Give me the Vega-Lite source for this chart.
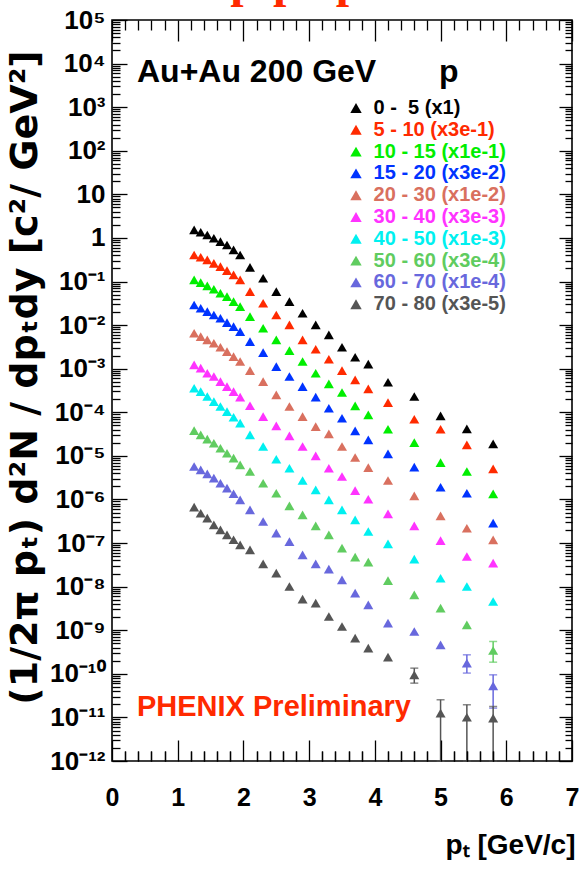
{
  "$schema": "https://vega.github.io/schema/vega-lite/v6.json",
  "autosize": {"type": "none"},
  "width": 460,
  "height": 741,
  "padding": {"left": 112, "top": 20, "right": 8, "bottom": 112},
  "background": "white",
  "config": {
    "view": {"stroke": "#000", "strokeWidth": 1.6},
    "axis": {"grid": false, "ticks": true, "tickColor": "#000", "tickOpacity": 1, "tickWidth": 1.3, "domain": false, "labelFont": "Liberation Sans", "labelFontWeight": "bold", "labelColor": "#000", "zindex": 1}
  },
  "datasets": {
    "main": [
      {"c":"0 - 5 (x1)","x":1.25,"y":1.53},{"c":"0 - 5 (x1)","x":1.35,"y":1.35},{"c":"0 - 5 (x1)","x":1.45,"y":1.17},{"c":"0 - 5 (x1)","x":1.55,"y":0.982},{"c":"0 - 5 (x1)","x":1.65,"y":0.824},{"c":"0 - 5 (x1)","x":1.75,"y":0.69},{"c":"0 - 5 (x1)","x":1.85,"y":0.531},{"c":"0 - 5 (x1)","x":1.95,"y":0.407},{"c":"0 - 5 (x1)","x":2.1,"y":0.212},{"c":"0 - 5 (x1)","x":2.3,"y":0.119},{"c":"0 - 5 (x1)","x":2.5,"y":0.0587},{"c":"0 - 5 (x1)","x":2.7,"y":0.0347},{"c":"0 - 5 (x1)","x":2.9,"y":0.0187},{"c":"0 - 5 (x1)","x":3.1,"y":0.0101},{"c":"0 - 5 (x1)","x":3.3,"y":0.00596},{"c":"0 - 5 (x1)","x":3.5,"y":0.0031},{"c":"0 - 5 (x1)","x":3.7,"y":0.00183},{"c":"0 - 5 (x1)","x":3.9,"y":0.00127},{"c":"0 - 5 (x1)","x":4.2,"y":0.00049},{"c":"0 - 5 (x1)","x":4.6,"y":0.00023},{"c":"0 - 5 (x1)","x":5.0,"y":8.28e-5},{"c":"0 - 5 (x1)","x":5.4,"y":4.16e-5},{"c":"0 - 5 (x1)","x":5.8,"y":1.88e-5},
      {"c":"5 - 10 (x3e-1)","x":1.25,"y":0.407},{"c":"5 - 10 (x3e-1)","x":1.35,"y":0.361},{"c":"5 - 10 (x3e-1)","x":1.45,"y":0.313},{"c":"5 - 10 (x3e-1)","x":1.55,"y":0.262},{"c":"5 - 10 (x3e-1)","x":1.65,"y":0.22},{"c":"5 - 10 (x3e-1)","x":1.75,"y":0.178},{"c":"5 - 10 (x3e-1)","x":1.85,"y":0.142},{"c":"5 - 10 (x3e-1)","x":1.95,"y":0.109},{"c":"5 - 10 (x3e-1)","x":2.1,"y":0.0587},{"c":"5 - 10 (x3e-1)","x":2.3,"y":0.0318},{"c":"5 - 10 (x3e-1)","x":2.5,"y":0.0171},{"c":"5 - 10 (x3e-1)","x":2.7,"y":0.0101},{"c":"5 - 10 (x3e-1)","x":2.9,"y":0.00458},{"c":"5 - 10 (x3e-1)","x":3.1,"y":0.0028},{"c":"5 - 10 (x3e-1)","x":3.3,"y":0.00165},{"c":"5 - 10 (x3e-1)","x":3.5,"y":0.000906},{"c":"5 - 10 (x3e-1)","x":3.7,"y":0.000553},{"c":"5 - 10 (x3e-1)","x":3.9,"y":0.000344},{"c":"5 - 10 (x3e-1)","x":4.2,"y":0.000167},{"c":"5 - 10 (x3e-1)","x":4.6,"y":6.93e-5},{"c":"5 - 10 (x3e-1)","x":5.0,"y":4.09e-5},{"c":"5 - 10 (x3e-1)","x":5.4,"y":1.79e-5},{"c":"5 - 10 (x3e-1)","x":5.8,"y":5.04e-6},
      {"c":"10 - 15 (x1e-1)","x":1.25,"y":0.109},{"c":"10 - 15 (x1e-1)","x":1.35,"y":0.0946},{"c":"10 - 15 (x1e-1)","x":1.45,"y":0.0793},{"c":"10 - 15 (x1e-1)","x":1.55,"y":0.0665},{"c":"10 - 15 (x1e-1)","x":1.65,"y":0.0538},{"c":"10 - 15 (x1e-1)","x":1.75,"y":0.0451},{"c":"10 - 15 (x1e-1)","x":1.85,"y":0.0347},{"c":"10 - 15 (x1e-1)","x":1.95,"y":0.0266},{"c":"10 - 15 (x1e-1)","x":2.1,"y":0.0157},{"c":"10 - 15 (x1e-1)","x":2.3,"y":0.00847},{"c":"10 - 15 (x1e-1)","x":2.5,"y":0.00458},{"c":"10 - 15 (x1e-1)","x":2.7,"y":0.00261},{"c":"10 - 15 (x1e-1)","x":2.9,"y":0.00146},{"c":"10 - 15 (x1e-1)","x":3.1,"y":0.000787},{"c":"10 - 15 (x1e-1)","x":3.3,"y":0.000449},{"c":"10 - 15 (x1e-1)","x":3.5,"y":0.000284},{"c":"10 - 15 (x1e-1)","x":3.7,"y":0.00014},{"c":"10 - 15 (x1e-1)","x":3.9,"y":8.71e-5},{"c":"10 - 15 (x1e-1)","x":4.2,"y":4.09e-5},{"c":"10 - 15 (x1e-1)","x":4.6,"y":2.02e-5},{"c":"10 - 15 (x1e-1)","x":5.0,"y":7.03e-6},{"c":"10 - 15 (x1e-1)","x":5.4,"y":4.38e-6},{"c":"10 - 15 (x1e-1)","x":5.8,"y":1.34e-6},
      {"c":"15 - 20 (x3e-2)","x":1.25,"y":0.029},{"c":"15 - 20 (x3e-2)","x":1.35,"y":0.0244},{"c":"15 - 20 (x3e-2)","x":1.45,"y":0.0204},{"c":"15 - 20 (x3e-2)","x":1.55,"y":0.0171},{"c":"15 - 20 (x3e-2)","x":1.65,"y":0.0144},{"c":"15 - 20 (x3e-2)","x":1.75,"y":0.0114},{"c":"15 - 20 (x3e-2)","x":1.85,"y":0.00925},{"c":"15 - 20 (x3e-2)","x":1.95,"y":0.00711},{"c":"15 - 20 (x3e-2)","x":2.1,"y":0.00419},{"c":"15 - 20 (x3e-2)","x":2.3,"y":0.00234},{"c":"15 - 20 (x3e-2)","x":2.5,"y":0.00112},{"c":"15 - 20 (x3e-2)","x":2.7,"y":0.000661},{"c":"15 - 20 (x3e-2)","x":2.9,"y":0.000389},{"c":"15 - 20 (x3e-2)","x":3.1,"y":0.000222},{"c":"15 - 20 (x3e-2)","x":3.3,"y":0.000124},{"c":"15 - 20 (x3e-2)","x":3.5,"y":7.31e-5},{"c":"15 - 20 (x3e-2)","x":3.7,"y":3.74e-5},{"c":"15 - 20 (x3e-2)","x":3.9,"y":2.33e-5},{"c":"15 - 20 (x3e-2)","x":4.2,"y":1.11e-5},{"c":"15 - 20 (x3e-2)","x":4.6,"y":5.5e-6},{"c":"15 - 20 (x3e-2)","x":5.0,"y":1.91e-6},{"c":"15 - 20 (x3e-2)","x":5.4,"y":1.39e-6},{"c":"15 - 20 (x3e-2)","x":5.8,"y":2.86e-7},
      {"c":"20 - 30 (x1e-2)","x":1.25,"y":0.0065},{"c":"20 - 30 (x1e-2)","x":1.35,"y":0.00546},{"c":"20 - 30 (x1e-2)","x":1.45,"y":0.00457},{"c":"20 - 30 (x1e-2)","x":1.55,"y":0.00384},{"c":"20 - 30 (x1e-2)","x":1.65,"y":0.0031},{"c":"20 - 30 (x1e-2)","x":1.75,"y":0.00247},{"c":"20 - 30 (x1e-2)","x":1.85,"y":0.0019},{"c":"20 - 30 (x1e-2)","x":1.95,"y":0.00146},{"c":"20 - 30 (x1e-2)","x":2.1,"y":0.000906},{"c":"20 - 30 (x1e-2)","x":2.3,"y":0.000507},{"c":"20 - 30 (x1e-2)","x":2.5,"y":0.000251},{"c":"20 - 30 (x1e-2)","x":2.7,"y":0.000136},{"c":"20 - 30 (x1e-2)","x":2.9,"y":7.98e-5},{"c":"20 - 30 (x1e-2)","x":3.1,"y":4.71e-5},{"c":"20 - 30 (x1e-2)","x":3.3,"y":3.2e-5},{"c":"20 - 30 (x1e-2)","x":3.5,"y":1.64e-5},{"c":"20 - 30 (x1e-2)","x":3.7,"y":9.16e-6},{"c":"20 - 30 (x1e-2)","x":3.9,"y":5.4e-6},{"c":"20 - 30 (x1e-2)","x":4.2,"y":2.72e-6},{"c":"20 - 30 (x1e-2)","x":4.6,"y":1.21e-6},{"c":"20 - 30 (x1e-2)","x":5.0,"y":4.21e-7},{"c":"20 - 30 (x1e-2)","x":5.4,"y":2.19e-7},{"c":"20 - 30 (x1e-2)","x":5.8,"y":1.18e-7},
      {"c":"30 - 40 (x3e-3)","x":1.25,"y":0.00122},{"c":"30 - 40 (x3e-3)","x":1.35,"y":0.00103},{"c":"30 - 40 (x3e-3)","x":1.45,"y":0.000787},{"c":"30 - 40 (x3e-3)","x":1.55,"y":0.000661},{"c":"30 - 40 (x3e-3)","x":1.65,"y":0.000507},{"c":"30 - 40 (x3e-3)","x":1.75,"y":0.000389},{"c":"30 - 40 (x3e-3)","x":1.85,"y":0.000299},{"c":"30 - 40 (x3e-3)","x":1.95,"y":0.000222},{"c":"30 - 40 (x3e-3)","x":2.1,"y":0.000141},{"c":"30 - 40 (x3e-3)","x":2.3,"y":7.98e-5},{"c":"30 - 40 (x3e-3)","x":2.5,"y":4.9e-5},{"c":"30 - 40 (x3e-3)","x":2.7,"y":2.88e-5},{"c":"30 - 40 (x3e-3)","x":2.9,"y":1.64e-5},{"c":"30 - 40 (x3e-3)","x":3.1,"y":1.0e-5},{"c":"30 - 40 (x3e-3)","x":3.3,"y":5.21e-6},{"c":"30 - 40 (x3e-3)","x":3.5,"y":3.36e-6},{"c":"30 - 40 (x3e-3)","x":3.7,"y":1.6e-6},{"c":"30 - 40 (x3e-3)","x":3.9,"y":1.01e-6},{"c":"30 - 40 (x3e-3)","x":4.2,"y":4.68e-7},{"c":"30 - 40 (x3e-3)","x":4.6,"y":2.48e-7},{"c":"30 - 40 (x3e-3)","x":5.0,"y":1.14e-7},{"c":"30 - 40 (x3e-3)","x":5.4,"y":4.91e-8},{"c":"30 - 40 (x3e-3)","x":5.8,"y":3.45e-8},
      {"c":"40 - 50 (x1e-3)","x":1.25,"y":0.000356},{"c":"40 - 50 (x1e-3)","x":1.35,"y":0.000299},{"c":"40 - 50 (x1e-3)","x":1.45,"y":0.00023},{"c":"40 - 50 (x1e-3)","x":1.55,"y":0.000176},{"c":"40 - 50 (x1e-3)","x":1.65,"y":0.000136},{"c":"40 - 50 (x1e-3)","x":1.75,"y":0.000104},{"c":"40 - 50 (x1e-3)","x":1.85,"y":7.71e-5},{"c":"40 - 50 (x1e-3)","x":1.95,"y":5.62e-5},{"c":"40 - 50 (x1e-3)","x":2.1,"y":3.03e-5},{"c":"40 - 50 (x1e-3)","x":2.3,"y":1.64e-5},{"c":"40 - 50 (x1e-3)","x":2.5,"y":8.39e-6},{"c":"40 - 50 (x1e-3)","x":2.7,"y":5.21e-6},{"c":"40 - 50 (x1e-3)","x":2.9,"y":2.72e-6},{"c":"40 - 50 (x1e-3)","x":3.1,"y":1.66e-6},{"c":"40 - 50 (x1e-3)","x":3.3,"y":9.79e-7},{"c":"40 - 50 (x1e-3)","x":3.5,"y":5.78e-7},{"c":"40 - 50 (x1e-3)","x":3.7,"y":3.4e-7},{"c":"40 - 50 (x1e-3)","x":3.9,"y":1.84e-7},{"c":"40 - 50 (x1e-3)","x":4.2,"y":9.59e-8},{"c":"40 - 50 (x1e-3)","x":4.6,"y":4.27e-8},{"c":"40 - 50 (x1e-3)","x":5.0,"y":1.56e-8},{"c":"40 - 50 (x1e-3)","x":5.4,"y":1.01e-8},{"c":"40 - 50 (x1e-3)","x":5.8,"y":4.56e-9},
      {"c":"50 - 60 (x3e-4)","x":1.25,"y":3.8e-5},{"c":"50 - 60 (x3e-4)","x":1.35,"y":3.03e-5},{"c":"50 - 60 (x3e-4)","x":1.45,"y":2.42e-5},{"c":"50 - 60 (x3e-4)","x":1.55,"y":1.95e-5},{"c":"50 - 60 (x3e-4)","x":1.65,"y":1.5e-5},{"c":"50 - 60 (x3e-4)","x":1.75,"y":1.15e-5},{"c":"50 - 60 (x3e-4)","x":1.85,"y":8.85e-6},{"c":"50 - 60 (x3e-4)","x":1.95,"y":6.22e-6},{"c":"50 - 60 (x3e-4)","x":2.1,"y":4.38e-6},{"c":"50 - 60 (x3e-4)","x":2.3,"y":2.36e-6},{"c":"50 - 60 (x3e-4)","x":2.5,"y":1.39e-6},{"c":"50 - 60 (x3e-4)","x":2.7,"y":7.14e-7},{"c":"50 - 60 (x3e-4)","x":2.9,"y":4.44e-7},{"c":"50 - 60 (x3e-4)","x":3.1,"y":2.48e-7},{"c":"50 - 60 (x3e-4)","x":3.3,"y":1.54e-7},{"c":"50 - 60 (x3e-4)","x":3.5,"y":7.64e-8},{"c":"50 - 60 (x3e-4)","x":3.7,"y":4.74e-8},{"c":"50 - 60 (x3e-4)","x":3.9,"y":3.64e-8},{"c":"50 - 60 (x3e-4)","x":4.2,"y":1.38e-8},{"c":"50 - 60 (x3e-4)","x":4.6,"y":6.49e-9},{"c":"50 - 60 (x3e-4)","x":5.0,"y":3.21e-9},{"c":"50 - 60 (x3e-4)","x":5.4,"y":1.33e-9},{"c":"50 - 60 (x3e-4)","x":5.8,"y":3.43e-10},
      {"c":"60 - 70 (x1e-4)","x":1.25,"y":5.7e-6},{"c":"60 - 70 (x1e-4)","x":1.35,"y":4.78e-6},{"c":"60 - 70 (x1e-4)","x":1.45,"y":3.86e-6},{"c":"60 - 70 (x1e-4)","x":1.55,"y":3.08e-6},{"c":"60 - 70 (x1e-4)","x":1.65,"y":2.36e-6},{"c":"60 - 70 (x1e-4)","x":1.75,"y":1.82e-6},{"c":"60 - 70 (x1e-4)","x":1.85,"y":1.35e-6},{"c":"60 - 70 (x1e-4)","x":1.95,"y":9.79e-7},{"c":"60 - 70 (x1e-4)","x":2.1,"y":5.78e-7},{"c":"60 - 70 (x1e-4)","x":2.3,"y":3.12e-7},{"c":"60 - 70 (x1e-4)","x":2.5,"y":1.69e-7},{"c":"60 - 70 (x1e-4)","x":2.7,"y":1.08e-7},{"c":"60 - 70 (x1e-4)","x":2.9,"y":5.37e-8},{"c":"60 - 70 (x1e-4)","x":3.1,"y":3.33e-8},{"c":"60 - 70 (x1e-4)","x":3.3,"y":2.52e-8},{"c":"60 - 70 (x1e-4)","x":3.5,"y":1.43e-8},{"c":"60 - 70 (x1e-4)","x":3.7,"y":7.08e-9},{"c":"60 - 70 (x1e-4)","x":3.9,"y":3.83e-9},{"c":"60 - 70 (x1e-4)","x":4.2,"y":1.45e-9},{"c":"60 - 70 (x1e-4)","x":4.6,"y":9.35e-10},{"c":"60 - 70 (x1e-4)","x":5.0,"y":4.62e-10},{"c":"60 - 70 (x1e-4)","x":5.4,"y":1.76e-10},{"c":"60 - 70 (x1e-4)","x":5.8,"y":5.31e-11},
      {"c":"70 - 80 (x3e-5)","x":1.25,"y":6.65e-7},{"c":"70 - 80 (x3e-5)","x":1.35,"y":4.84e-7},{"c":"70 - 80 (x3e-5)","x":1.45,"y":3.72e-7},{"c":"70 - 80 (x3e-5)","x":1.55,"y":2.62e-7},{"c":"70 - 80 (x3e-5)","x":1.65,"y":2.01e-7},{"c":"70 - 80 (x3e-5)","x":1.75,"y":1.54e-7},{"c":"70 - 80 (x3e-5)","x":1.85,"y":1.19e-7},{"c":"70 - 80 (x3e-5)","x":1.95,"y":9.1e-8},{"c":"70 - 80 (x3e-5)","x":2.1,"y":6.98e-8},{"c":"70 - 80 (x3e-5)","x":2.3,"y":3.33e-8},{"c":"70 - 80 (x3e-5)","x":2.5,"y":2.04e-8},{"c":"70 - 80 (x3e-5)","x":2.7,"y":1.01e-8},{"c":"70 - 80 (x3e-5)","x":2.9,"y":5.16e-9},{"c":"70 - 80 (x3e-5)","x":3.1,"y":4.18e-9},{"c":"70 - 80 (x3e-5)","x":3.3,"y":2.07e-9},{"c":"70 - 80 (x3e-5)","x":3.5,"y":1.22e-9},{"c":"70 - 80 (x3e-5)","x":3.7,"y":6.58e-10},{"c":"70 - 80 (x3e-5)","x":3.9,"y":3.88e-10},{"c":"70 - 80 (x3e-5)","x":4.2,"y":2.41e-10},{"c":"70 - 80 (x3e-5)","x":4.6,"y":9.48e-11},{"c":"70 - 80 (x3e-5)","x":5.0,"y":1.25e-11},{"c":"70 - 80 (x3e-5)","x":5.4,"y":1.01e-11},{"c":"70 - 80 (x3e-5)","x":5.8,"y":9.6e-12}
    ],
    "err": [
      {"c":"50 - 60 (x3e-4)","x":5.8,"lo":1.85e-10,"hi":5.52e-10},
      {"c":"60 - 70 (x1e-4)","x":5.4,"lo":1.04e-10,"hi":2.73e-10},
      {"c":"60 - 70 (x1e-4)","x":5.8,"lo":1.63e-11,"hi":9.48e-11},
      {"c":"70 - 80 (x3e-5)","x":4.6,"lo":6.11e-11,"hi":1.35e-10},
      {"c":"70 - 80 (x3e-5)","x":5.0,"lo":1e-12,"hi":2.54e-11},
      {"c":"70 - 80 (x3e-5)","x":5.4,"lo":1e-12,"hi":1.95e-11},
      {"c":"70 - 80 (x3e-5)","x":5.8,"lo":1e-12,"hi":1.78e-11}
    ]
  },
  "resolve": {"axis": {"x": "independent", "y": "independent"}},
  "layer": [
    {
      "data": {"name": "err"},
      "transform": [{"filter": "datum.c == '50 - 60 (x3e-4)'"}],
      "mark": {"type": "errorbar", "ticks": {"size": 8, "thickness": 1.5, "color": "#60cc60"}, "rule": {"strokeWidth": 1.5, "color": "#60cc60"}},
      "encoding": {
        "x": {"field": "x", "type": "quantitative", "scale": {"domain": [0, 7], "nice": false, "zero": false},
          "axis": {"orient": "bottom", "values": [0.2,0.4,0.6,0.8,1.2,1.4,1.6,1.8,2.2,2.4,2.6,2.8,3.2,3.4,3.6,3.8,4.2,4.4,4.6,4.8,5.2,5.4,5.6,5.8,6.2,6.4,6.6,6.8], "ticks": true, "tickColor": "#000", "tickOpacity": 1, "tickWidth": 1.3, "zindex": 2, "offset": -10, "tickSize": 10, "labels": false, "domain": false, "title": null}},
        "y": {"field": "lo", "type": "quantitative", "scale": {"type": "log", "domain": [1e-12, 100000], "nice": false},
          "axis": {"orient": "left", "values": [1e-12,1e-11,1e-10,1e-9,1e-8,1e-7,1e-6,1e-5,1e-4,1e-3,1e-2,1e-1,1,10,100,1000,10000,100000], "ticks": true, "tickColor": "#000", "tickOpacity": 1, "tickWidth": 1.3, "zindex": 2, "tickSize": -15, "labels": false, "domain": false, "title": null}},
        "y2": {"field": "hi"}
      }
    },
    {
      "data": {"name": "err"},
      "transform": [{"filter": "datum.c == '60 - 70 (x1e-4)'"}],
      "mark": {"type": "errorbar", "ticks": {"size": 8, "thickness": 1.5, "color": "#6868dd"}, "rule": {"strokeWidth": 1.5, "color": "#6868dd"}},
      "encoding": {
        "x": {"field": "x", "type": "quantitative", "scale": {"domain": [0, 7], "nice": false, "zero": false},
          "axis": {"orient": "top", "values": [0,1,2,3,4,5,6,7], "ticks": true, "tickColor": "#000", "tickOpacity": 1, "tickWidth": 1.3, "zindex": 2, "tickSize": -21, "labels": false, "domain": false, "title": null}},
        "y": {"field": "lo", "type": "quantitative", "scale": {"type": "log", "domain": [1e-12, 100000], "nice": false},
          "axis": {"orient": "left", "values": [2e-12,3e-12,4e-12,5e-12,6e-12,7e-12,8e-12,9e-12,2e-11,3e-11,4e-11,5e-11,6e-11,7e-11,8e-11,9e-11,2e-10,3e-10,4e-10,5e-10,6e-10,7e-10,8e-10,9e-10,2e-9,3e-9,4e-9,5e-9,6e-9,7e-9,8e-9,9e-9,2e-8,3e-8,4e-8,5e-8,6e-8,7e-8,8e-8,9e-8,2e-7,3e-7,4e-7,5e-7,6e-7,7e-7,8e-7,9e-7,2e-6,3e-6,4e-6,5e-6,6e-6,7e-6,8e-6,9e-6,2e-5,3e-5,4e-5,5e-5,6e-5,7e-5,8e-5,9e-5,2e-4,3e-4,4e-4,5e-4,6e-4,7e-4,8e-4,9e-4,2e-3,3e-3,4e-3,5e-3,6e-3,7e-3,8e-3,9e-3,2e-2,3e-2,4e-2,5e-2,6e-2,7e-2,8e-2,9e-2,0.2,0.3,0.4,0.5,0.6,0.7,0.8,0.9,2,3,4,5,6,7,8,9,20,30,40,50,60,70,80,90,200,300,400,500,600,700,800,900,2000,3000,4000,5000,6000,7000,8000,9000,20000,30000,40000,50000,60000,70000,80000,90000], "ticks": true, "tickColor": "#000", "tickOpacity": 1, "tickWidth": 1.3, "zindex": 2, "offset": -8, "tickSize": 8, "labels": false, "domain": false, "title": null}},
        "y2": {"field": "hi"}
      }
    },
    {
      "data": {"name": "err"},
      "transform": [{"filter": "datum.c == '70 - 80 (x3e-5)'"}],
      "mark": {"type": "errorbar", "ticks": {"size": 8, "thickness": 1.5, "color": "#555555"}, "rule": {"strokeWidth": 1.5, "color": "#555555"}},
      "encoding": {
        "x": {"field": "x", "type": "quantitative", "scale": {"domain": [0, 7], "nice": false, "zero": false},
          "axis": {"orient": "top", "values": [0.2,0.4,0.6,0.8,1.2,1.4,1.6,1.8,2.2,2.4,2.6,2.8,3.2,3.4,3.6,3.8,4.2,4.4,4.6,4.8,5.2,5.4,5.6,5.8,6.2,6.4,6.6,6.8], "ticks": true, "tickColor": "#000", "tickOpacity": 1, "tickWidth": 1.3, "zindex": 2, "tickSize": -10, "labels": false, "domain": false, "title": null}},
        "y": {"field": "lo", "type": "quantitative", "scale": {"type": "log", "domain": [1e-12, 100000], "nice": false},
          "axis": {"orient": "right", "values": [1e-12,1e-11,1e-10,1e-9,1e-8,1e-7,1e-6,1e-5,1e-4,1e-3,1e-2,1e-1,1,10,100,1000,10000,100000], "ticks": true, "tickColor": "#000", "tickOpacity": 1, "tickWidth": 1.3, "zindex": 2, "tickSize": -13, "labels": false, "domain": false, "title": null}},
        "y2": {"field": "hi"}
      }
    },
    {
      "data": {"name": "main"},
      "mark": {"type": "point", "shape": "triangle-up", "filled": true, "size": 100, "opacity": 1},
      "encoding": {
        "x": {"field": "x", "type": "quantitative", "scale": {"domain": [0, 7], "nice": false, "zero": false},
          "axis": {"orient": "bottom", "values": [0,1,2,3,4,5,6,7], "ticks": true, "tickColor": "#000", "tickOpacity": 1, "tickWidth": 1.3, "zindex": 2, "tickSize": -21, "labelFontSize": 25, "labelPadding": 45, "labelFlush": false, "labelOverlap": false, "domain": false,
            "title": "pₜ [GeV/c]", "titleFont": "Liberation Sans", "titleFontSize": 28, "titleFontWeight": "bold", "titleColor": "#000", "titleX": 463, "titleY": 92, "titleAlign": "right", "titleBaseline": "alphabetic"}},
        "y": {"field": "y", "type": "quantitative", "scale": {"type": "log", "domain": [1e-12, 100000], "nice": false},
          "axis": {"orient": "right", "values": [2e-12,3e-12,4e-12,5e-12,6e-12,7e-12,8e-12,9e-12,2e-11,3e-11,4e-11,5e-11,6e-11,7e-11,8e-11,9e-11,2e-10,3e-10,4e-10,5e-10,6e-10,7e-10,8e-10,9e-10,2e-9,3e-9,4e-9,5e-9,6e-9,7e-9,8e-9,9e-9,2e-8,3e-8,4e-8,5e-8,6e-8,7e-8,8e-8,9e-8,2e-7,3e-7,4e-7,5e-7,6e-7,7e-7,8e-7,9e-7,2e-6,3e-6,4e-6,5e-6,6e-6,7e-6,8e-6,9e-6,2e-5,3e-5,4e-5,5e-5,6e-5,7e-5,8e-5,9e-5,2e-4,3e-4,4e-4,5e-4,6e-4,7e-4,8e-4,9e-4,2e-3,3e-3,4e-3,5e-3,6e-3,7e-3,8e-3,9e-3,2e-2,3e-2,4e-2,5e-2,6e-2,7e-2,8e-2,9e-2,0.2,0.3,0.4,0.5,0.6,0.7,0.8,0.9,2,3,4,5,6,7,8,9,20,30,40,50,60,70,80,90,200,300,400,500,600,700,800,900,2000,3000,4000,5000,6000,7000,8000,9000,20000,30000,40000,50000,60000,70000,80000,90000], "ticks": true, "tickColor": "#000", "tickOpacity": 1, "tickWidth": 1.3, "zindex": 2, "tickSize": -7, "labels": false, "domain": false, "title": null}},
        "color": {"field": "c", "type": "nominal",
          "scale": {"domain": ["0 - 5 (x1)","5 - 10 (x3e-1)","10 - 15 (x1e-1)","15 - 20 (x3e-2)","20 - 30 (x1e-2)","30 - 40 (x3e-3)","40 - 50 (x1e-3)","50 - 60 (x3e-4)","60 - 70 (x1e-4)","70 - 80 (x3e-5)"],
                    "range": ["#000000","#ff2a00","#00ee00","#0033ff","#d9705f","#ff33ff","#00f0f0","#60cc60","#6868dd","#555555"]},
          "legend": {"orient": "none", "legendX": 234, "legendY": 78, "title": null, "padding": 0, "symbolType": "triangle-up", "symbolSize": 130, "symbolStrokeWidth": 0, "symbolOpacity": 1,
            "labelFont": "Liberation Sans", "labelFontSize": 20, "labelFontWeight": "bold", "labelOffset": 7.6, "rowPadding": 1.8,
            "labelColor": {"expr": "scale('color', datum.value)"},
            "labelExpr": "datum.label == '0 - 5 (x1)' ? '\u00a00 -\u00a0\u00a05 (x1)' : datum.label == '5 - 10 (x3e-1)' ? '\u00a05 - 10 (x3e-1)' : datum.label"}}
      }
    },
    {
      "data": {"values": [{}]},
      "mark": {"type": "text", "text": "Au+Au 200 GeV", "align": "left", "baseline": "alphabetic", "font": "Liberation Sans", "fontSize": 32, "fontWeight": "bold", "color": "#000"},
      "encoding": {
        "x": {"datum": 0.38, "type": "quantitative", "scale": {"domain": [0, 7], "nice": false, "zero": false},
          "axis": {"orient": "bottom", "values": [0.2,0.4,0.6,0.8,1.2,1.4,1.6,1.8,2.2,2.4,2.6,2.8,3.2,3.4,3.6,3.8,4.2,4.4,4.6,4.8,5.2,5.4,5.6,5.8,6.2,6.4,6.6,6.8], "ticks": true, "tickColor": "#000", "tickOpacity": 1, "tickWidth": 1.3, "zindex": 2, "tickSize": -10, "labels": false, "domain": false, "title": null}},
        "y": {"datum": 3786, "type": "quantitative", "scale": {"type": "log", "domain": [1e-12, 100000], "nice": false},
          "axis": {"orient": "left", "values": [1e-12,1e-11,1e-10,1e-9,1e-8,1e-7,1e-6,1e-5,1e-4,1e-3,1e-2,1e-1,1,10,100,1000,10000,100000], "ticks": false, "labelFontSize": 26, "labelPadding": 7, "labelFlush": false, "labelOverlap": false, "domain": false,
            "labelExpr": "datum.value == 1 ? '1' : datum.value == 10 ? '10' : '10' + ['⁻¹²','⁻¹¹','⁻¹⁰','⁻⁹','⁻⁸','⁻⁷','⁻⁶','⁻⁵','⁻⁴','⁻³','⁻²','⁻¹','','','²','³','⁴','⁵'][round(log(datum.value)/LN10)+12]",
            "title": "(1/2π pₜ) d²N / dpₜdy [c²/ GeV²]", "titleFont": "DejaVu Sans", "titleFontSize": 38, "titleFontWeight": "bold", "titleColor": "#000", "titleAngle": 270, "titleX": -76, "titleY": 357, "titleAlign": "center", "titleBaseline": "alphabetic"}}
      }
    },
    {
      "data": {"values": [{}]},
      "mark": {"type": "text", "text": "p", "align": "left", "baseline": "alphabetic", "font": "Liberation Sans", "fontSize": 32, "fontWeight": "bold", "color": "#000"},
      "encoding": {
        "x": {"datum": 4.976, "type": "quantitative", "scale": {"domain": [0, 7], "nice": false, "zero": false}, "axis": null},
        "y": {"datum": 3786, "type": "quantitative", "scale": {"type": "log", "domain": [1e-12, 100000], "nice": false}, "axis": null}
      }
    },
    {
      "data": {"values": [{}]},
      "mark": {"type": "text", "text": "PHENIX Preliminary", "align": "left", "baseline": "alphabetic", "font": "Liberation Sans", "fontSize": 29, "fontWeight": "bold", "color": "#ff2a00"},
      "encoding": {
        "x": {"datum": 0.38, "type": "quantitative", "scale": {"domain": [0, 7], "nice": false, "zero": false}, "axis": null},
        "y": {"datum": 1.05e-11, "type": "quantitative", "scale": {"type": "log", "domain": [1e-12, 100000], "nice": false}, "axis": null}
      }
    },
    {
      "data": {"values": [{}]},
      "mark": {"type": "text", "text": "p\u00a0\u200ap\u00a0\u00a0\u00a0p", "align": "left", "baseline": "alphabetic", "font": "Liberation Serif", "fontSize": 48, "fontWeight": "bold", "color": "#ff2a00"},
      "encoding": {
        "x": {"datum": 1.8, "type": "quantitative", "scale": {"domain": [0, 7], "nice": false, "zero": false}, "axis": null},
        "y": {"datum": 330000, "type": "quantitative", "scale": {"type": "log", "domain": [1e-12, 100000], "nice": false}, "axis": null}
      }
    }
  ]
}
